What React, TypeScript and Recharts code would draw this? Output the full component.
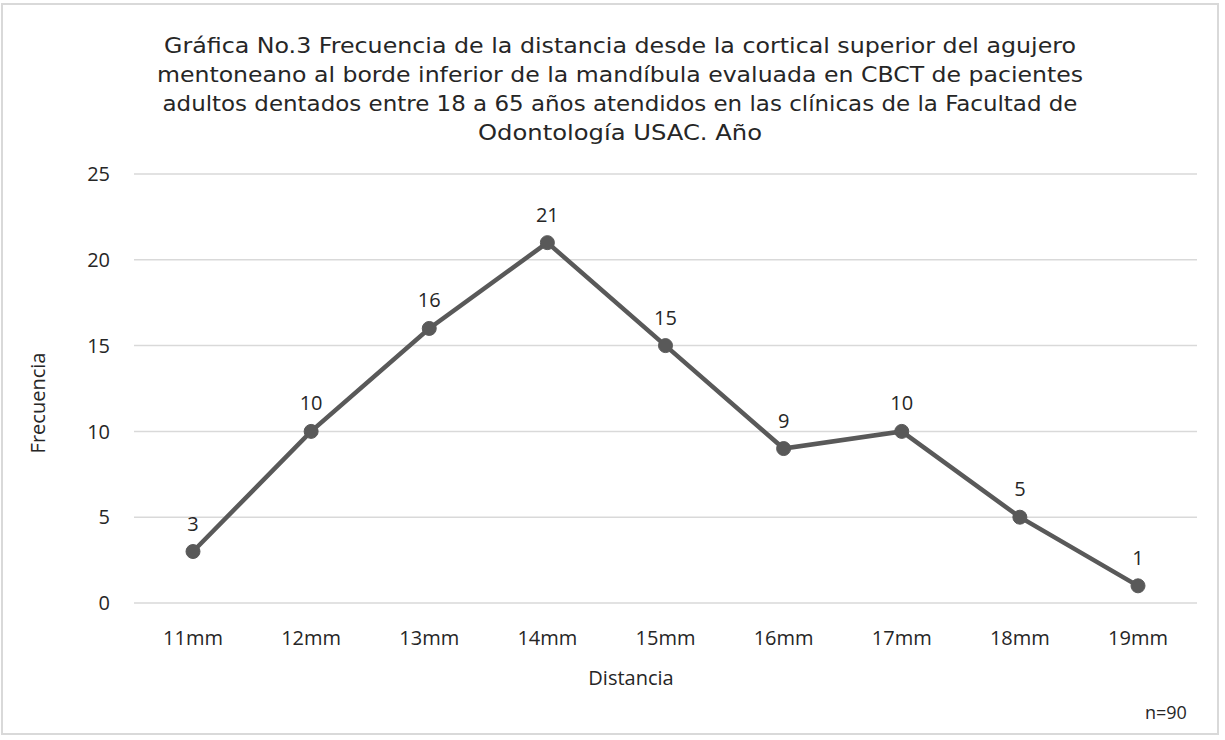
import { LineChart, Line, XAxis, YAxis, CartesianGrid, LabelList } from 'recharts';

const categories = ['11mm', '12mm', '13mm', '14mm', '15mm', '16mm', '17mm', '18mm', '19mm'];
const frecuencia = [3, 10, 16, 21, 15, 9, 10, 5, 1];
const yTicks = [0, 5, 10, 15, 20, 25];
const titleLines = [
  'Gráfica No.3 Frecuencia de la distancia desde la cortical superior del agujero',
  'mentoneano al borde inferior de la mandíbula evaluada en CBCT de pacientes',
  'adultos dentados entre 18 a 65 años atendidos en las clínicas de la Facultad de',
  'Odontología USAC. Año',
];
const titleWidths = [912, 926, 915, 284];

const data = categories.map((name, i) => ({ name, value: frecuencia[i] }));

const font = '"Open Sans", "Noto Sans", sans-serif';
const titleFont = '"DejaVu Sans", sans-serif';

export default function App() {
  return (
    <div style={{ position: 'absolute', left: 0, top: 0, width: 1225, height: 740, background: '#fff', fontFamily: font }}>
      <div
        style={{
          position: 'absolute', left: 1, top: 3, width: 1218, height: 732,
          border: '2px solid #d9d9d9', boxSizing: 'border-box',
        }}
      />
      <svg width={1225} height={160} style={{ position: 'absolute', left: 0, top: 0 }}>
        {titleLines.map((t, i) => (
          <text
            key={t}
            x={620}
            y={53 + i * 29}
            textAnchor="middle"
            fontFamily={titleFont}
            fontSize={21}
            fill="#262626"
            textLength={titleWidths[i]}
            lengthAdjust="spacingAndGlyphs"
          >
            {t}
          </text>
        ))}
      </svg>
      <LineChart width={1225} height={740} data={data} margin={{ top: 174, right: 28, left: 0, bottom: 0 }}>
        <CartesianGrid vertical={false} stroke="#d9d9d9" strokeWidth={1.5} />
        <XAxis
          dataKey="name"
          axisLine={false}
          tickLine={false}
          tickSize={0}
          tickMargin={28}
          height={137}
          padding={{ left: 59, right: 59 }}
          tick={{ fill: '#262626', fontSize: 20, fontFamily: font }}
        />
        <YAxis
          domain={[0, 25]}
          ticks={yTicks}
          axisLine={false}
          tickLine={false}
          tickSize={0}
          tickMargin={24}
          width={134}
          tick={{ fill: '#262626', fontSize: 20, fontFamily: font }}
        />
        <Line
          type="linear"
          dataKey="value"
          stroke="#595959"
          strokeWidth={4.5}
          dot={{ r: 7, fill: '#595959', stroke: '#595959', strokeWidth: 1 }}
          isAnimationActive={false}
        >
          <LabelList dataKey="value" position="top" offset={21} fill="#262626" fontSize={20} fontFamily={font} />
        </Line>
      </LineChart>
      <div style={{ position: 'absolute', left: 631, top: 664, transform: 'translateX(-50%)', fontSize: 20, color: '#262626' }}>
        Distancia
      </div>
      <div
        style={{
          position: 'absolute', left: 37, top: 403, transform: 'translate(-50%, -50%) rotate(-90deg)',
          fontSize: 20, color: '#262626', whiteSpace: 'nowrap',
        }}
      >
        Frecuencia
      </div>
      <div style={{ position: 'absolute', left: 1145, top: 700, fontSize: 18, color: '#262626' }}>n=90</div>
    </div>
  );
}
